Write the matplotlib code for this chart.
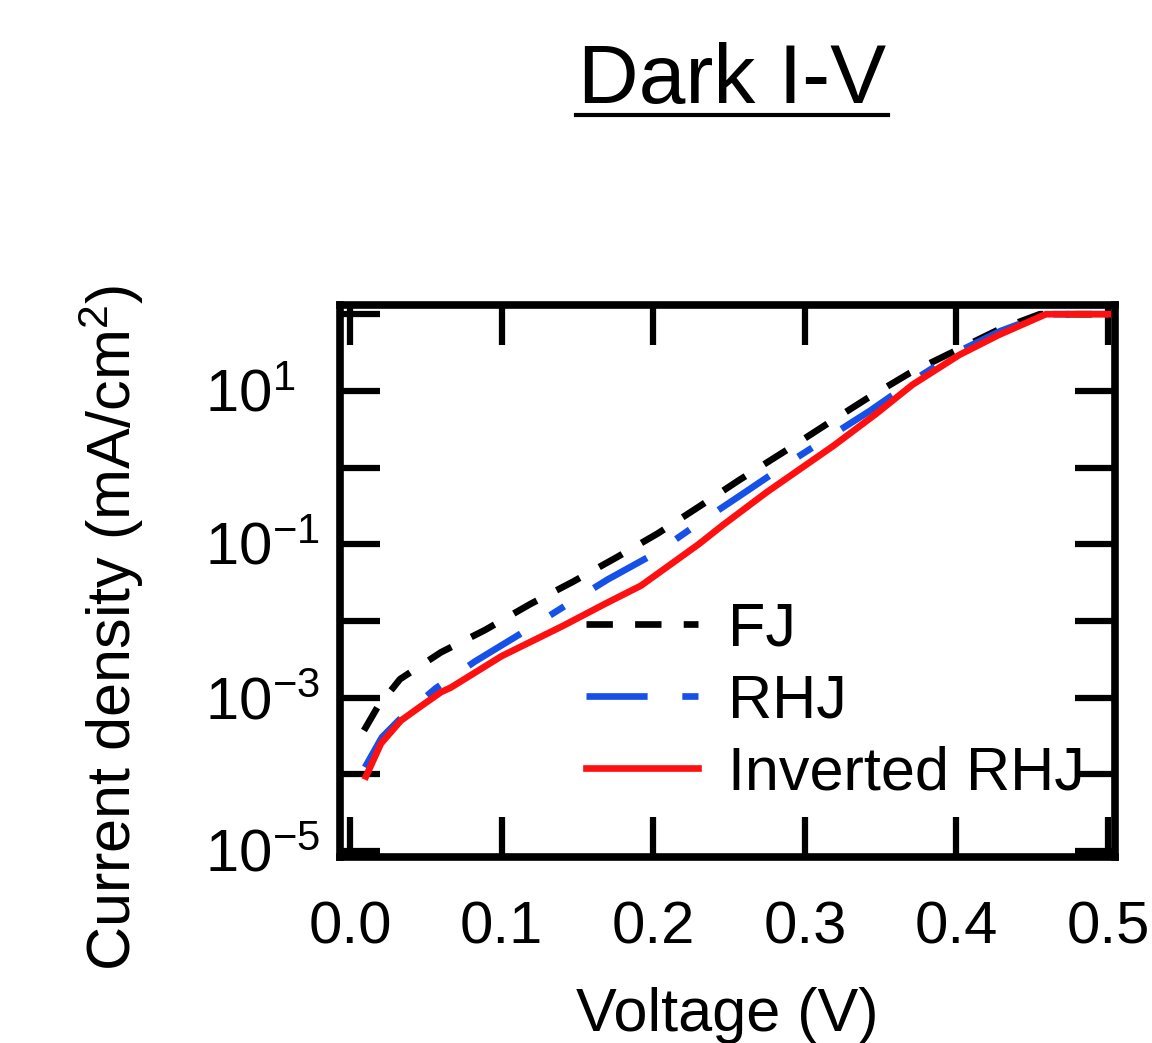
import numpy as np
import matplotlib
matplotlib.use("Agg")
import matplotlib.pyplot as plt
from matplotlib.ticker import FixedLocator, FuncFormatter, NullLocator
from matplotlib.lines import Line2D

plt.rcParams['font.family'] = ['Liberation Sans', 'DejaVu Sans']
plt.rcParams['mathtext.fontset'] = 'custom'
plt.rcParams['mathtext.rm'] = 'Liberation Sans'
plt.rcParams['mathtext.it'] = 'Liberation Sans:italic'
plt.rcParams['mathtext.bf'] = 'Liberation Sans:bold'
plt.rcParams['lines.scale_dashes'] = False

# ---- data (voltage in V, log10 of current density in mA/cm^2) ----
v_fj = [0.0092, 0.018, 0.033, 0.060, 0.089, 0.119, 0.147, 0.176, 0.203, 0.231,
        0.257, 0.289, 0.314, 0.341, 0.369, 0.399, 0.428, 0.455, 0.500]
log_j_fj = [-3.43, -3.13, -2.76, -2.41, -2.12, -1.78, -1.49, -1.17, -0.86, -0.50,
            -0.16, 0.24, 0.56, 0.90, 1.23, 1.52, 1.80, 2.00, 2.00]

v_rhj = [0.0099, 0.021, 0.034, 0.0565, 0.0824, 0.1165, 0.143, 0.170, 0.203, 0.232,
         0.257, 0.290, 0.316, 0.343, 0.375, 0.402, 0.429, 0.459, 0.500]
log_j_rhj = [-3.91, -3.52, -3.26, -2.88, -2.53, -2.12, -1.79, -1.46, -1.10, -0.70,
             -0.37, 0.07, 0.40, 0.74, 1.18, 1.52, 1.78, 2.00, 2.00]

v_inv = [0.0105, 0.0204, 0.0336, 0.047, 0.060, 0.0665, 0.100, 0.140, 0.168, 0.192,
         0.230, 0.246, 0.275, 0.319, 0.347, 0.371, 0.402, 0.428, 0.459, 0.500]
log_j_inv = [-4.03, -3.60, -3.30, -3.11, -2.93, -2.87, -2.46, -2.07, -1.78, -1.54,
             -1.00, -0.75, -0.32, 0.285, 0.70, 1.08, 1.47, 1.73, 2.00, 2.00]

labels = ["FJ", "RHJ", "Inverted RHJ"]
x_ticks = [0.0, 0.1, 0.2, 0.3, 0.4, 0.5]
y_tick_exps = [2, 1, 0, -1, -2, -3, -4, -5]
y_labeled_exps = [1, -1, -3, -5]

W, H, DPI = 1152, 1043, 100
fig = plt.figure(figsize=(W / DPI, H / DPI), dpi=DPI)
ax = fig.add_axes([340 / W, 1 - 857 / H, (1115 - 340) / W, (857 - 305) / H])

lw = 4.8
ax.plot(v_fj, 10 ** np.array(log_j_fj), color='black', lw=lw,
        dashes=(19, 16), label=labels[0], zorder=3)
ax.plot(v_rhj, 10 ** np.array(log_j_rhj), color='#1550e8', lw=lw,
        dashes=(44, 25, 12, 25), label=labels[1], zorder=3)
ax.plot(v_inv, 10 ** np.array(log_j_inv), color='#ff1010', lw=lw,
        label=labels[2], zorder=4)

ax.set_yscale('log')
ax.set_xlim(-0.0066, 0.5046)
ax.set_ylim(10 ** -5.08, 10 ** 2.12)

ax.xaxis.set_major_locator(FixedLocator(x_ticks))
ax.xaxis.set_major_formatter(FuncFormatter(lambda v, p: f"{v:.1f}"))
ax.yaxis.set_major_locator(FixedLocator([10.0 ** e for e in y_tick_exps]))
ax.yaxis.set_minor_locator(NullLocator())


def yfmt(val, pos):
    e = int(round(np.log10(val)))
    if e in y_labeled_exps:
        return r'$\mathdefault{10^{%d}}$' % e
    return ''


ax.yaxis.set_major_formatter(FuncFormatter(yfmt))

for s in ax.spines.values():
    s.set_linewidth(5.5)
ax.tick_params(which='major', direction='in', length=29, width=4.5,
               top=True, right=True, labelsize=43)
ax.tick_params(axis='x', pad=31)
ax.tick_params(axis='y', pad=97)
for lab in ax.get_yticklabels():
    lab.set_horizontalalignment('left')

ax.set_xlabel('Voltage (V)', fontsize=44)
ax.xaxis.set_label_coords(0.5, -0.235)
ax.set_ylabel('Current density (mA/cm$^{2}$)', fontsize=44)
ax.yaxis.set_label_coords(-0.25, 0.415)

leg = ax.legend(loc='center left', bbox_to_anchor=(0.317, 0.281), frameon=False,
                fontsize=44, handlelength=1.83, handletextpad=0.5,
                labelspacing=0.25, borderpad=0, borderaxespad=0)

title = fig.text(732 / W, 1 - 103 / H, 'Dark I-V', fontsize=60.5,
                 ha='center', va='baseline')
fig.canvas.draw()
bb = title.get_window_extent()
uy = (H - 115) / H
fig.add_artist(Line2D([bb.x0 / W - 0.002, bb.x1 / W + 0.002], [uy, uy],
                      transform=fig.transFigure, color='black', lw=3.0))

fig.savefig('out.png', dpi=DPI)
